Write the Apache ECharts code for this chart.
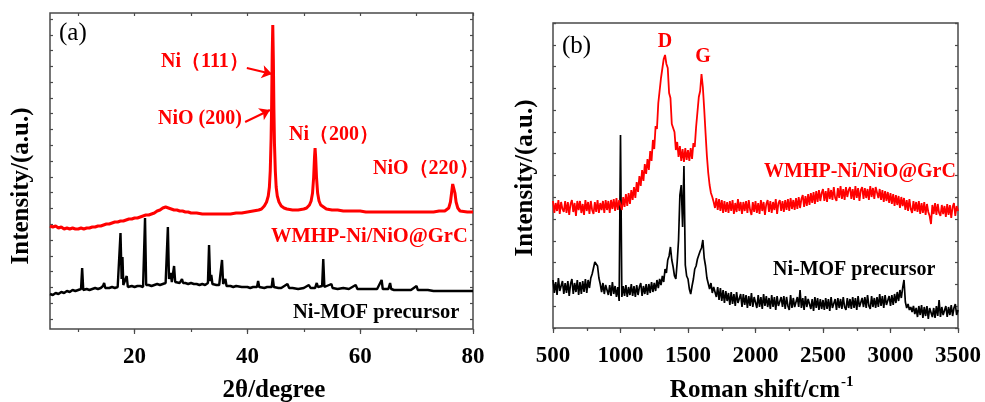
<!DOCTYPE html>
<html><head><meta charset="utf-8">
<script src="https://cdn.jsdelivr.net/npm/echarts@6/dist/echarts.min.js"></script>
<style>html,body{margin:0;padding:0;background:#fff}#c{width:985px;height:402px}</style>
</head><body><div id="c"></div>
<script>
// ---------- Data (intensity in arbitrary units) ----------
// (a) XRD: [2theta, intensity]
const xrdRed = [[5,103],[5.5,102],[6,103],[6.5,101],[7,102],[7.5,100],[8,101],[8.5,100],[9,101],[9.5,100],[10,100],[10.5,101],[11,100],[11.5,101],[12,101],[12.5,102],[13,102],[13.5,103],[14,103],[14.5,104],[15,105],[15.5,105],[16,106],[16.5,107],[17,107],[17.5,108],[18,108],[18.5,109],[19,110],[19.5,110],[20,111],[20.5,111],[21,112],[21.5,113],[22,114],[22.5,114],[23,115],[23.5,116],[24,118],[24.5,119],[25,121],[25.5,122],[26,121],[26.5,120],[27,119],[27.5,119],[28,118],[28.5,118],[29,117],[29.5,117],[30,116],[31,116],[32,115],[33,115],[34,115],[35,115],[36,115],[37,115],[38,116],[39,116],[40,117],[41,118],[42,119],[42.5,120],[43,123],[43.4,127],[43.7,133],[43.9,142],[44.05,158],[44.2,190],[44.3,225],[44.4,275],[44.5,304],[44.6,270],[44.7,220],[44.8,185],[44.95,158],[45.1,142],[45.3,133],[45.6,127],[46,123],[46.5,121],[47,120],[48,119],[49,119],[50,120],[50.5,121],[51,124],[51.3,128],[51.55,136],[51.75,152],[51.9,172],[52,181],[52.1,172],[52.25,152],[52.45,136],[52.7,128],[53,124],[53.5,122],[54,120],[55,119],[56,119],[57,118],[58,118],[59,118],[60,118],[61,117],[62,117],[63,117],[64,117],[65,117],[66,117],[67,117],[68,117],[69,117],[70,117],[71,117],[72,117],[73,117],[74,118],[75,118],[75.3,118],[75.7,121],[76,127],[76.2,136],[76.4,145],[76.5,147],[76.6,145],[76.8,136],[77,127],[77.3,121],[77.7,118],[78,117],[79,117],[80,117]];
const xrdBlack = [[5,35],[5.5,34],[6,36],[6.5,35],[7,37],[7.5,36],[8,38],[8.5,37],[9,39],[9.5,38],[10,39],[10.5,40],[10.7,61],[10.9,39],[11.5,40],[12,39],[12.5,40],[13,41],[13.5,40],[14,41],[14.4,43],[14.6,46],[14.8,41],[15,40],[15.5,41],[16,42],[16.5,41],[17,42],[17.3,43],[17.5,96],[17.7,50],[17.85,72],[18.0,44],[18.3,43],[18.6,53],[18.8,42],[19,42],[19.5,43],[20,42],[20.5,43],[21,43],[21.5,42],[21.7,44],[21.85,111],[22.05,44],[22.5,44],[23,43],[23.5,44],[24,45],[24.5,44],[25,45],[25.5,46],[25.75,48],[25.9,102],[26.1,50],[26.4,56],[26.6,47],[26.85,48],[27.0,63],[27.2,47],[27.5,46],[28,46],[28.2,47],[28.4,50],[28.6,46],[29,46],[29.5,45],[30,46],[30.5,45],[31,45],[31.5,44],[32,45],[32.5,44],[33,46],[33.2,84],[33.4,48],[33.6,54],[33.8,45],[34,44],[34.5,44],[35,44],[35.3,46],[35.5,69],[35.7,45],[36.1,50],[36.3,43],[37,43],[37.5,42],[38,43],[39,42],[40,42],[40.5,41],[41,42],[41.7,42],[41.9,48],[42.1,42],[43,41],[43.5,42],[44.3,42],[44.5,51],[44.7,42],[45.5,41],[46,41],[47.1,45],[47.4,41],[48,41],[49,40],[50,41],[50.9,44],[51.2,41],[52,41],[52.3,46],[52.5,42],[53.25,43],[53.45,70],[53.65,42],[54,41],[54.9,45],[55.1,41],[56,40],[57,41],[58,40],[59.2,44],[59.5,40],[60,40],[61,40],[62,40],[63,40],[63.8,49],[64,40],[65,40],[65.3,46],[65.5,40],[66,39],[67,39],[68,39],[69,39],[70,43],[70.2,39],[71,39],[72,39],[73,38],[74,38],[75,38],[76,38],[77,38],[78,38],[79,38],[80,38]];

// (b) Raman: intensities sampled every 10 cm-1 from 500 to 3500
const ramanStart = 500, ramanStep = 10;
const ramanRed = [
127,115,125,117,128,114,126,119,116,127,
115,126,113,124,128,116,125,112,127,118,
127,115,124,113,128,117,126,114,127,118,
114,126,116,128,115,125,118,127,115,128,
118,127,115,128,119,129,117,130,118,128,
129,118,131,121,134,122,135,124,138,128,
141,130,146,136,152,142,158,147,164,154,
169,158,177,167,188,179,202,199,225,226,
250,249,269,273,264,260,235,230,204,203,
196,178,186,171,182,167,179,166,180,168,
178,167,180,169,185,181,201,203,231,237,
254,241,219,195,172,155,143,135,131,126,
120,130,118,129,117,128,115,127,116,126,
115,127,117,128,114,125,116,129,117,126,
114,126,117,127,115,128,118,113,126,116,
127,115,125,114,128,117,126,113,124,128,
116,127,115,126,118,129,114,125,128,117,
127,116,128,118,129,117,130,119,128,118,
130,119,131,120,129,133,121,132,122,134,
123,135,125,136,124,137,126,138,127,135,
139,127,137,126,140,129,138,128,141,130,
127,140,130,142,129,139,128,141,131,138,
141,129,139,128,142,130,140,127,138,141,
129,140,130,139,128,142,131,140,129,141,
143,130,139,128,138,126,137,127,136,125,
135,124,134,122,133,123,132,120,131,122,
130,118,128,117,129,119,115,127,117,126,
116,127,114,125,115,126,113,124,116,112,
104,123,114,125,113,124,115,112,123,114,
122,111,124,113,123,110,121,125,112,122,
117];
const ramanBlack = [
48,35,46,33,50,37,36,47,34,45,
35,47,32,44,49,34,45,36,48,33,
46,34,47,36,49,35,48,40,50,54,
60,66,68,62,50,44,36,45,34,43,
45,33,43,32,46,34,42,31,41,27,
193,31,42,32,43,31,41,33,44,32,
42,31,43,33,41,45,32,42,34,44,
33,44,35,46,36,45,37,48,40,49,
43,52,46,59,55,68,72,81,68,61,
52,49,66,88,133,143,101,162,63,52,
49,39,34,42,49,59,62,69,71,77,
80,88,70,62,50,49,39,45,35,41,
43,31,41,28,40,27,38,25,37,27,
35,23,36,24,34,22,36,25,23,34,
21,34,23,33,20,32,22,35,21,31,
32,20,33,21,31,19,34,22,32,21,
30,19,33,21,31,18,32,22,20,31,
21,32,19,31,22,18,33,20,30,21,
19,31,21,38,20,30,18,32,21,29,
30,19,29,17,31,20,30,18,29,19,
28,18,30,19,29,17,31,20,19,29,
18,30,20,29,19,31,21,18,30,20,
29,19,31,20,30,18,32,21,19,30,
21,31,20,33,22,19,32,21,30,20,
31,21,34,22,32,20,33,23,21,32,
22,33,23,34,25,36,27,38,30,40,
48,26,20,24,18,21,16,22,14,20,
11,22,13,23,10,21,12,22,9,20,
21,11,20,10,22,12,28,11,21,13,
12,22,11,21,13,23,12,20,24,13,
18];

// Tick labels
const xrdTickLabels = [20, 40, 60, 80];
const ramanTickLabels = [500, 1000, 1500, 2000, 2500, 3000, 3500];

// ---------- Chart ----------
const FONT = '"Times New Roman","Liberation Serif",serif';
const RED = '#ff0000';
const FRAME = '#4a4a4a';
const ramanPairs = arr => arr.map((v, i) => [ramanStart + i * ramanStep, v]);

const chart = echarts.init(document.getElementById('c'), null, {renderer: 'canvas'});
const hidden = (grid, min, max) => ({gridIndex: grid, type: 'value', min, max, show: false});

const tickAxis = (o) => Object.assign({
  type: 'value', axisLine: {show: false}, splitLine: {show: false},
  axisLabel: {show: false}, axisTick: {show: true, lineStyle: {color: FRAME, width: 1.2}}
}, o);

const labelStyle = {show: true, color: '#000', fontFamily: FONT, fontWeight: 'bold', fontSize: 23, margin: 17};

const option = {
  animation: false,
  backgroundColor: '#fff',
  grid: [
    {left: 50, top: 13, width: 423, height: 316, show: true, borderColor: FRAME, borderWidth: 1.5, backgroundColor: 'transparent'},
    {left: 78.2, top: 13, width: 394.8, height: 316},
    {left: 134.6, top: 13, width: 338.4, height: 316},
    {left: 50, top: 19, width: 423, height: 300},
    {left: 553, top: 23, width: 405, height: 305, show: true, borderColor: FRAME, borderWidth: 1.5, backgroundColor: 'transparent'}
  ],
  xAxis: [
    hidden(0, 5, 80),
    tickAxis({gridIndex: 1, min: 10, max: 80, interval: 10, position: 'bottom', axisTick: {show: true, length: 3, lineStyle: {color: FRAME, width: 1.2}}}),
    tickAxis({gridIndex: 1, min: 10, max: 80, interval: 10, position: 'top', axisTick: {show: true, inside: true, length: 3, lineStyle: {color: FRAME, width: 1.2}}}),
    tickAxis({gridIndex: 2, min: 20, max: 80, interval: 20, position: 'bottom', axisTick: {show: true, length: 5, lineStyle: {color: FRAME, width: 1.2}},
      axisLabel: Object.assign({}, labelStyle, {formatter: v => xrdTickLabels.includes(v) ? String(v) : ''})}),
    hidden(3, 0, 1),
    tickAxis({gridIndex: 4, min: 500, max: 3500, interval: 500, position: 'bottom',
      axisTick: {show: true, length: 5, lineStyle: {color: FRAME, width: 1.2}},
      minorTick: {show: true, splitNumber: 2, length: 3, lineStyle: {color: FRAME, width: 1.2}},
      axisLabel: Object.assign({}, labelStyle, {formatter: v => ramanTickLabels.includes(v) ? String(v) : ''})}),
    tickAxis({gridIndex: 4, min: 500, max: 3500, interval: 500, position: 'top',
      axisTick: {show: true, inside: true, length: 3, lineStyle: {color: FRAME, width: 1.2}},
      minorTick: {show: true, splitNumber: 2, length: 2, lineStyle: {color: FRAME, width: 1.2}}})
  ],
  yAxis: [
    hidden(0, 0, 316),
    hidden(1, 0, 1),
    hidden(2, 0, 1),
    tickAxis({gridIndex: 3, min: 0, max: 19, interval: 1, position: 'left', axisTick: {show: true, inside: true, length: 3, lineStyle: {color: FRAME, width: 1.2}}}),
    tickAxis({gridIndex: 3, min: 0, max: 19, interval: 1, position: 'right', axisTick: {show: true, inside: true, length: 3, lineStyle: {color: FRAME, width: 1.2}}}),
    tickAxis({gridIndex: 4, min: 0, max: 305, interval: 305 / 14, position: 'left', axisTick: {show: true, inside: true, length: 3, lineStyle: {color: FRAME, width: 1.2}}}),
    tickAxis({gridIndex: 4, min: 0, max: 305, interval: 305 / 14, position: 'right', axisTick: {show: true, inside: true, length: 3, lineStyle: {color: FRAME, width: 1.2}}})
  ],
  series: [
    {type: 'line', xAxisIndex: 0, yAxisIndex: 0, data: xrdBlack, showSymbol: false, symbol: 'none', silent: true,
      lineStyle: {color: '#000', width: 2.4}},
    {type: 'line', xAxisIndex: 0, yAxisIndex: 0, data: xrdRed, showSymbol: false, symbol: 'none', silent: true,
      lineStyle: {color: RED, width: 3},
      markLine: {silent: true, symbol: ['none', 'arrow'], symbolSize: 10, animation: false,
        label: {show: false}, lineStyle: {color: RED, width: 2, type: 'solid'},
        emphasis: {disabled: true},
        data: [
          [{coord: [39.9, 261]}, {coord: [44.35, 255]}],
          [{coord: [39.6, 207]}, {coord: [44.0, 219]}]
        ]}},
    {type: 'line', xAxisIndex: 5, yAxisIndex: 5, data: ramanPairs(ramanBlack), showSymbol: false, symbol: 'none', silent: true,
      lineStyle: {color: '#000', width: 1.7}},
    {type: 'line', xAxisIndex: 5, yAxisIndex: 5, data: ramanPairs(ramanRed), showSymbol: false, symbol: 'none', silent: true,
      lineStyle: {color: RED, width: 1.8}}
  ],
  graphic: []
};

const T = (text, x, y, opts) => Object.assign({
  type: 'text', silent: true, x, y,
  style: Object.assign({text, x: 0, y: 0, fill: '#000', font: 'bold 20px ' + FONT,
    align: 'left', verticalAlign: 'middle', textAlign: 'left', textVerticalAlign: 'middle'}, opts || {})
});
const centered = {align: 'center', textAlign: 'center'};

option.graphic = [
  T('(a)', 59, 33, {font: '25px ' + FONT}),
  T('(b)', 562, 46, {font: '25px ' + FONT}),
  T('Ni（111）', 161, 62, {fill: RED}),
  T('NiO (200)', 158, 119, {fill: RED}),
  T('Ni（200）', 289, 135, {fill: RED}),
  T('NiO（220）', 373, 169, {fill: RED}),
  T('WMHP-Ni/NiO@GrC', 271, 237, {fill: RED, font: 'bold 20.5px ' + FONT}),
  T('Ni-MOF precursor', 293, 313, {font: 'bold 20.5px ' + FONT}),
  T('D', 665, 42, Object.assign({fill: RED}, centered)),
  T('G', 703, 57, Object.assign({fill: RED}, centered)),
  T('WMHP-Ni/NiO@GrC', 764, 172, {fill: RED}),
  T('Ni-MOF precursor', 773, 270, {font: 'bold 20px ' + FONT}),
  T('2θ/degree', 274, 391, Object.assign({font: 'bold 25px ' + FONT}, centered)),
  T('Roman shift/cm', 840, 391, {font: 'bold 25px ' + FONT, align: 'right', textAlign: 'right'}),
  T('-1', 841, 382, {font: 'bold 15px ' + FONT}),
  Object.assign(T('Intensity/(a.u.)', 0, 0, Object.assign({font: 'bold 25px ' + FONT}, centered)), {x: 22, y: 186, rotation: Math.PI / 2}),
  Object.assign(T('Intensity/(a.u.)', 0, 0, Object.assign({font: 'bold 25px ' + FONT}, centered)), {x: 526, y: 178, rotation: Math.PI / 2})
];

chart.setOption(option);
</script>
</body></html>
